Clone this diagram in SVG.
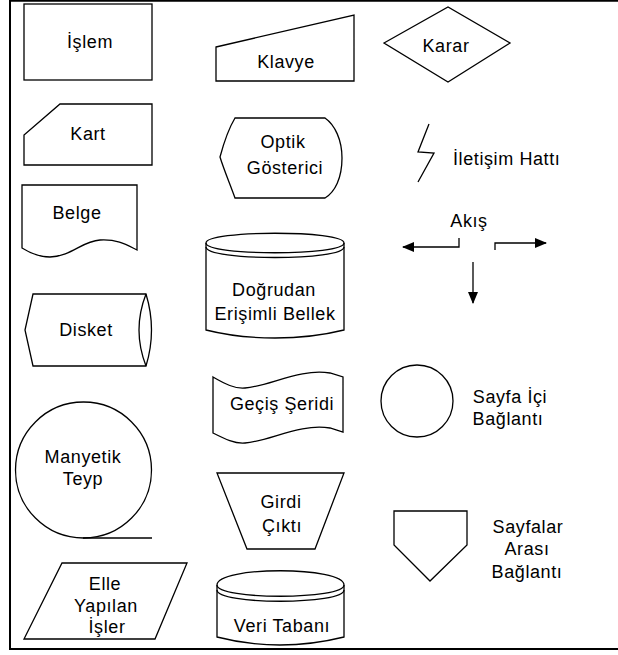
<svg xmlns="http://www.w3.org/2000/svg" width="618" height="655" viewBox="0 0 618 655">
  <style>
    .s { fill: #fff; stroke: #000; stroke-width: 1.3; stroke-linejoin: miter; }
    .l { fill: none; stroke: #000; stroke-width: 1.3; }
    .t { font-family: "Liberation Sans", Arial, sans-serif; font-size: 18px; fill: #000; text-anchor: middle; letter-spacing: 0.6px; }
    .ts { text-anchor: start; }
  </style>
  <defs>
    <marker id="arrow" viewBox="0 0 12 10" refX="11" refY="5" markerWidth="12" markerHeight="10" markerUnits="userSpaceOnUse" orient="auto">
      <path d="M0,0 L12,5 L0,10 Z" fill="#000"/>
    </marker>
  </defs>

  <!-- page frame -->
  <path d="M620,0.7 H10 V649 H620" fill="none" stroke="#000" stroke-width="2"/>

  <!-- left column -->
  <g id="islem">
    <rect class="s" x="24" y="4" width="128" height="76"/>
    <text class="t" x="90" y="48">İşlem</text>
  </g>
  <g id="kart">
    <path class="s" d="M60,104 H152 V165 H24 V135 Z"/>
    <text class="t" x="88" y="140">Kart</text>
  </g>
  <g id="belge">
    <path class="s" d="M22,185 H137 V250 C127,245 118,239 100,240 C82,241 72,256 50,257 C38,257 30,253 22,248 Z"/>
    <text class="t" x="77" y="219">Belge</text>
  </g>
  <g id="disket">
    <path class="s" d="M33,294 H146 Q157,330 146,366 H33 L25,330 Z"/>
    <path class="l" d="M146,294 Q132,330 146,366"/>
    <text class="t" x="86" y="336">Disket</text>
  </g>
  <g id="manyetik-teyp">
    <circle class="s" cx="83.5" cy="470" r="68"/>
    <path class="l" d="M83,538 H152"/>
    <text class="t" x="83" y="463">Manyetik</text>
    <text class="t" x="83" y="485">Teyp</text>
  </g>
  <g id="elle-yapilan-isler">
    <path class="s" d="M62,563 H187 L155,639 H24 Z"/>
    <text class="t" x="105" y="590">Elle</text>
    <text class="t" x="106" y="612">Yapılan</text>
    <text class="t" x="107" y="633">İşler</text>
  </g>

  <!-- middle column -->
  <g id="klavye">
    <path class="s" d="M216,47 L354,15 V81 H216 Z"/>
    <text class="t" x="286" y="68">Klavye</text>
  </g>
  <g id="optik-gosterici">
    <path class="s" d="M235,118 H325 C335,125 342,140 342,158 C342,178 335,192 325,198 H235 C230,184 224,170 220,157 C224,142 229,128 235,118 Z"/>
    <text class="t" x="283" y="148">Optik</text>
    <text class="t" x="285" y="174">Gösterici</text>
  </g>
  <g id="dogrudan-erisimli-bellek">
    <path class="s" d="M206,243 C206,230 344,230 344,243 V330 C320,336 298,338 275,338 C252,338 230,336 206,330 Z"/>
    <path class="l" d="M206,243 C206,256 344,256 344,243"/>
    <path class="l" d="M206,247 C206,261 344,261 344,247"/>
    <text class="t" x="274" y="296">Doğrudan</text>
    <text class="t" x="275" y="320">Erişimli Bellek</text>
  </g>
  <g id="gecis-seridi">
    <path class="s" d="M213,377 C225,384 235,389 245,388 C270,386 300,368 330,373 L343,377 V432 L330,428 C300,423 270,441 245,443 C235,444 225,439 213,433 Z"/>
    <text class="t" x="282" y="410">Geçiş Şeridi</text>
  </g>
  <g id="girdi-cikti">
    <path class="s" d="M217,473 H344 L315,549 H247 Z"/>
    <text class="t" x="281" y="508">Girdi</text>
    <text class="t" x="282" y="532">Çıktı</text>
  </g>
  <g id="veri-tabani">
    <path class="s" d="M217,585 C217,566 344,566 344,585 V637 C320,643 300,645 280,645 C260,645 240,643 217,637 Z"/>
    <path class="l" d="M217,585 C217,600 344,600 344,585"/>
    <path class="l" d="M217,590 C217,605 344,605 344,590"/>
    <text class="t" x="282" y="632">Veri Tabanı</text>
  </g>

  <!-- right column -->
  <g id="karar">
    <path class="s" d="M384,43 L448,7 L510,43 L448,82 Z"/>
    <text class="t" x="446" y="52">Karar</text>
  </g>
  <g id="iletisim-hatti">
    <path class="l" d="M429,124 L418,152 L434,153 L418,182"/>
    <text class="t ts" x="453" y="165">İletişim Hattı</text>
  </g>
  <g id="connectors">
    <text class="t" x="469" y="227">Akış</text>
    <path class="l" d="M459,238 V247 H403" marker-end="url(#arrow)"/>
    <path class="l" d="M495,250 V243 H546" marker-end="url(#arrow)"/>
    <path class="l" d="M473,262 V303" marker-end="url(#arrow)"/>
  </g>
  <g id="sayfa-ici-baglanti">
    <circle class="s" cx="417" cy="401" r="36"/>
    <text class="t" x="510" y="403">Sayfa İçi</text>
    <text class="t" x="508" y="425">Bağlantı</text>
  </g>
  <g id="sayfalar-arasi-baglanti">
    <path class="s" d="M394,511 H467 V545 L430,581 L394,545 Z"/>
    <text class="t" x="528" y="533">Sayfalar</text>
    <text class="t" x="527" y="555">Arası</text>
    <text class="t" x="527" y="578">Bağlantı</text>
  </g>
</svg>
